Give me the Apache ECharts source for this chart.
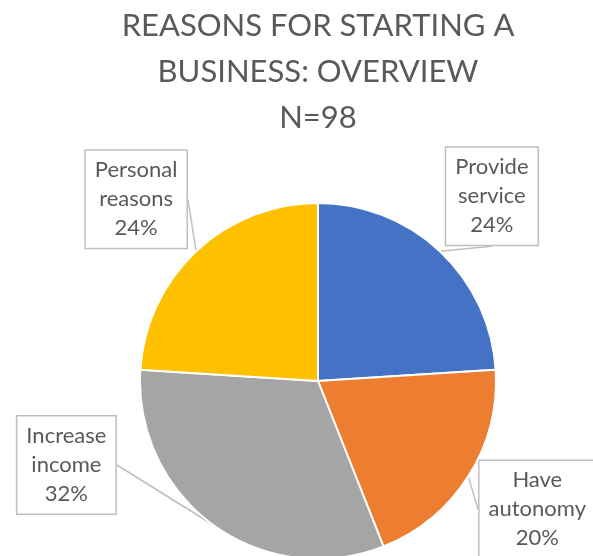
<!DOCTYPE html>
<html>
<head>
<meta charset="utf-8">
<title>Reasons for starting a business</title>
<script src="https://cdn.jsdelivr.net/npm/echarts@6/dist/echarts.min.js"></script>
<style>
  html, body { margin: 0; padding: 0; background: #ffffff; }
  #chart { width: 593px; height: 556px; }
</style>
</head>
<body>
<div id="chart"></div>
<script>
// Survey answers, share of respondents per reason (N=98)
const categories = ['Provide service', 'Have autonomy', 'Increase income', 'Personal reasons'];
const shares = [24, 20, 32, 24];
const sliceColors = ['#4472C4', '#ED7D31', '#A5A5A5', '#FFC000'];
const titleText = 'REASONS FOR STARTING A\nBUSINESS: OVERVIEW\nN=98';

// Where each callout box sits, measured from the point on the rim it points to
const calloutOffsets = [[52, -55], [69, 33], [-147, -60], [-60, -52]];

const FONT = 'Lato, "Open Sans", sans-serif';
const chart = echarts.init(document.getElementById('chart'), null, { renderer: 'canvas' });

chart.setOption({
  backgroundColor: '#ffffff',
  animation: false,
  color: sliceColors,
  title: {
    text: titleText,
    left: 318,
    textAlign: 'center',
    top: 3,
    padding: 0,
    textStyle: {
      fontFamily: FONT,
      fontSize: 31,
      fontWeight: 'normal',
      color: '#595959',
      lineHeight: 46
    }
  },
  series: [{
    type: 'pie',
    center: [318, 381],
    radius: 178,
    startAngle: 90,
    clockwise: true,
    avoidLabelOverlap: false,
    itemStyle: { borderColor: '#ffffff', borderWidth: 2 },
    label: {
      show: true,
      position: 'outside',
      formatter: p => p.name.replace(' ', '\n') + '\n' + p.percent + '%',
      fontFamily: FONT,
      fontSize: 22,
      lineHeight: 29,
      color: '#595959',
      align: 'center',
      backgroundColor: '#ffffff',
      borderColor: '#BFBFBF',
      borderWidth: 1.5,
      padding: [5, 9, 5, 9]
    },
    labelLine: {
      show: true,
      length: 10,
      length2: 0,
      lineStyle: { color: '#BFBFBF', width: 1.5 }
    },
    labelLayout: function (params) {
      const rim = params.labelLinePoints ? params.labelLinePoints[0] : [params.rect.x, params.rect.y];
      const off = calloutOffsets[params.dataIndex];
      return {
        x: rim[0] + off[0],
        y: rim[1] + off[1],
        align: 'center',
        verticalAlign: 'middle'
      };
    },
    data: categories.map((name, i) => ({ name: name, value: shares[i] }))
  }]
});
</script>
</body>
</html>
